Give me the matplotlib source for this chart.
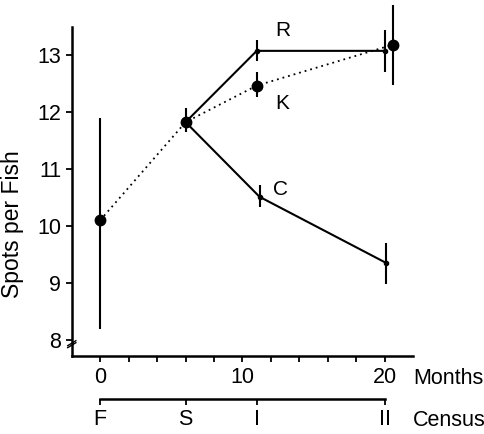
import matplotlib
matplotlib.use('Agg')
import matplotlib.pyplot as plt

plt.rcParams['font.family'] = ['Liberation Sans', 'DejaVu Sans']

# K series (dotted, big dots), starts at F census
k_months = [0, 6, 11, 20.6]
k_spots = [10.1, 11.82, 12.46, 13.18]
k_lo = [8.2, 11.65, 12.26, 12.47]
k_hi = [11.9, 12.07, 12.7, 13.88]

# R series (solid), from S census
r_months = [6, 11, 20]
r_spots = [11.82, 13.07, 13.07]
r_lo = [11.82, 12.9, 12.7]
r_hi = [11.82, 13.26, 13.44]

# C series (solid), from S census
c_months = [6, 11.2, 20.1]
c_spots = [11.82, 10.51, 9.35]
c_lo = [11.82, 10.33, 8.98]
c_hi = [11.82, 10.72, 9.7]

census_months = [0, 6, 11, 20]
census_labels = ['F', 'S', 'I', 'II']

fig = plt.figure(figsize=(4.85, 4.34), dpi=100)
ax = fig.add_axes([0.148, 0.180, 0.704, 0.758])

# lines
ax.plot(k_months, k_spots, color='black', ls=(0, (1, 2.2)), lw=1.3)
ax.plot(r_months, r_spots, color='black', lw=1.5)
ax.plot(c_months, c_spots, color='black', lw=1.5)

# error bars
for xs, lo, hi in [(k_months, k_lo, k_hi), (r_months, r_lo, r_hi), (c_months, c_lo, c_hi)]:
    ax.vlines(xs, lo, hi, color='black', lw=1.5, clip_on=False)

# markers
ax.plot(k_months, k_spots, 'o', color='black', ms=7.5, clip_on=False)
ax.plot(r_months[1:], r_spots[1:], 'o', color='black', ms=3)
ax.plot(c_months[1:], c_spots[1:], 'o', color='black', ms=3)

# series labels
ax.text(12.8, 13.43, 'R', fontsize=15, ha='center', va='center')
ax.text(12.8, 12.15, 'K', fontsize=15, ha='center', va='center')
ax.text(12.7, 10.63, 'C', fontsize=15, ha='center', va='center')

ax.set_xlim(-2, 22)
ax.set_ylim(7.72, 13.49)
ax.set_xticks([0, 10, 20])
ax.set_xticks([2, 4, 6, 8, 12, 14, 16, 18], minor=True)
ax.set_yticks([8, 9, 10, 11, 12, 13])
ax.spines['top'].set_visible(False)
ax.spines['right'].set_visible(False)
ax.spines['left'].set_linewidth(1.8)
ax.spines['bottom'].set_linewidth(1.8)
ax.tick_params(which='both', direction='out', length=4, width=1.3, labelsize=15.5)
ax.tick_params(axis='x', pad=4)
ax.set_ylabel('Spots per Fish', fontsize=16.5)
ax.yaxis.set_label_coords(-0.14, 0.40)

# axis break mark near the bottom of the y axis
for dy in (0, 0.006):
    ax.plot([-0.012, 0.012], [0.025 + dy, 0.040 + dy], transform=ax.transAxes,
            color='black', lw=1.0, clip_on=False)

fig.text(413 / 485, 1 - 378 / 434, 'Months', fontsize=15.5, ha='left', va='center')

# census axis
ax2 = fig.add_axes([0.148, 1 - 399 / 434, 0.704, 0.001])
ax2.set_xlim(-2, 22)
for s in ['top', 'right', 'left']:
    ax2.spines[s].set_visible(False)
ax2.spines['bottom'].set_bounds(census_months[0], census_months[-1])
ax2.spines['bottom'].set_linewidth(1.8)
ax2.set_yticks([])
ax2.set_xticks(census_months)
ax2.set_xticklabels(census_labels)
ax2.tick_params(direction='out', length=4, width=1.3, labelsize=15.5, pad=3)
ax2.patch.set_visible(False)

fig.text(413 / 485, 1 - 420 / 434, 'Census', fontsize=15.5, ha='left', va='center')

fig.savefig('out.png', dpi=100)
